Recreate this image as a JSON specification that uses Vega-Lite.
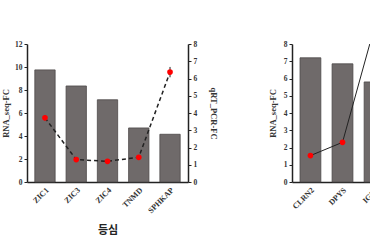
{
  "$schema": "https://vega.github.io/schema/vega-lite/v6.json",
  "padding": {"left": 1, "top": 40, "right": 0, "bottom": 0},
  "background": "white",
  "spacing": 50,
  "config": {
    "view": {"stroke": null},
    "axis": {
      "labelFont": "Liberation Serif", "labelFontWeight": "bold", "labelFontSize": 7.5, "labelColor": "#333",
      "titleFont": "Liberation Serif", "titleFontWeight": "bold", "titleFontSize": 8.5, "titleColor": "#333",
      "domainColor": "#222", "domainWidth": 1.5, "tickColor": "#222", "tickSize": 3, "grid": false
    }
  },
  "datasets": {
    "left": [
      {"gene": "ZIC1", "rna": 9.75, "qpcr": 3.72, "err": 0.15},
      {"gene": "ZIC3", "rna": 8.35, "qpcr": 1.3, "err": 0.05},
      {"gene": "ZIC4", "rna": 7.15, "qpcr": 1.2, "err": 0.05},
      {"gene": "TNMD", "rna": 4.7, "qpcr": 1.43, "err": 0.07},
      {"gene": "SPHKAP", "rna": 4.15, "qpcr": 6.37, "err": 0.3}
    ],
    "right": [
      {"gene": "CLRN2", "rna": 7.2, "qpcr": 1.53},
      {"gene": "DPYS", "rna": 6.85, "qpcr": 2.3},
      {"gene": "IGF2", "rna": 5.8, "qpcr": 9.0}
    ]
  },
  "hconcat": [
    {
      "data": {"name": "left"},
      "width": 161,
      "height": 138,
      "encoding": {
        "x": {"field": "gene", "type": "nominal", "sort": null,
              "scale": {"paddingInner": 0.35, "paddingOuter": 0.25},
              "axis": {"title": "등심", "labelAngle": -45, "ticks": false, "labelPadding": 4, "labelFontSize": 8,
                       "titleFont": "Noto Sans CJK KR", "titleFontSize": 11, "titleColor": "#222", "titlePadding": 10}}
      },
      "layer": [
        {
          "mark": {"type": "bar", "color": "#6f6a6a", "stroke": "#4d4949", "strokeWidth": 0.8},
          "encoding": {
            "y": {"field": "rna", "type": "quantitative", "scale": {"domain": [0, 12]},
                  "axis": {"title": "RNA_seq-FC", "values": [0, 2, 4, 6, 8, 10, 12], "titlePadding": 4}}
          }
        },
        {
          "encoding": {
            "y": {"field": "qpcr", "type": "quantitative", "scale": {"domain": [0, 8]},
                  "axis": {"orient": "right", "title": "qRT_PCR-FC", "values": [0, 1, 2, 3, 4, 5, 6, 7, 8], "titlePadding": 12}}
          },
          "layer": [
            {
              "mark": {"type": "errorbar", "color": "#222", "ticks": false},
              "encoding": {
                "yError": {"field": "err"}
              }
            },
            {
              "mark": {"type": "line", "color": "#222", "strokeWidth": 1.5, "strokeDash": [4, 3]}
            },
            {
              "mark": {"type": "point", "filled": true, "color": "#f00", "size": 32, "opacity": 1}
            }
          ]
        }
      ],
      "resolve": {"scale": {"y": "independent"}}
    },
    {
      "data": {"name": "right"},
      "width": 101,
      "height": 138,
      "encoding": {
        "x": {"field": "gene", "type": "nominal", "sort": null,
              "scale": {"paddingInner": 0.35, "paddingOuter": 0.25},
              "axis": {"title": null, "labelAngle": -45, "ticks": false, "labelPadding": 4, "labelFontSize": 8}}
      },
      "layer": [
        {
          "mark": {"type": "bar", "color": "#6f6a6a", "stroke": "#4d4949", "strokeWidth": 0.8},
          "encoding": {
            "y": {"field": "rna", "type": "quantitative", "scale": {"domain": [0, 8]},
                  "axis": {"title": "RNA_seq-FC", "values": [0, 1, 2, 3, 4, 5, 6, 7, 8], "titlePadding": 6}}
          }
        },
        {
          "encoding": {
            "y": {"field": "qpcr", "type": "quantitative", "scale": {"domain": [0, 8]}, "axis": null}
          },
          "layer": [
            {"mark": {"type": "line", "color": "#222", "strokeWidth": 1, "clip": true}},
            {"mark": {"type": "point", "filled": true, "color": "#f00", "size": 32, "opacity": 1, "clip": true}}
          ]
        }
      ],
      "resolve": {"scale": {"y": "independent"}}
    }
  ]
}
